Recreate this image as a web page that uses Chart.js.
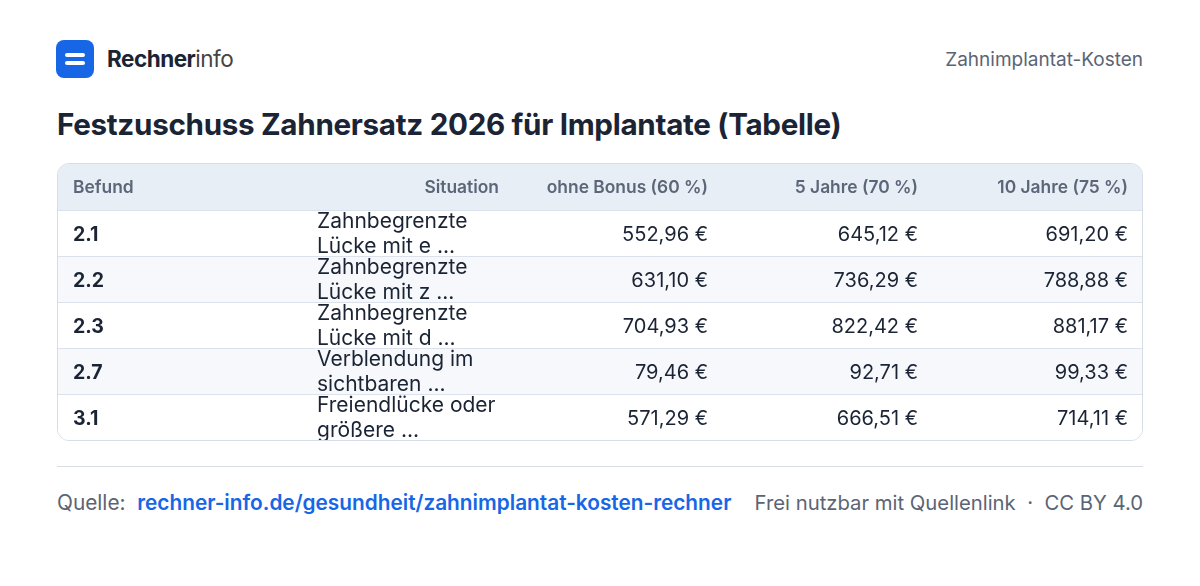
<!DOCTYPE html>
<html><head><meta charset="utf-8">
<script src="https://cdn.jsdelivr.net/npm/chart.js@4"></script>
<style>
body{margin:0;width:1200px;height:586px;background:#fff;font-family:Inter,"Noto Sans",sans-serif;position:relative;overflow:hidden;color:#1b2434}
.abs{position:absolute;white-space:nowrap}
#logo{left:56px;top:40px;width:38px;height:38px;background:#1766e6;border-radius:8px}
#logo i{position:absolute;left:9px;width:20px;height:4px;background:#fff;border-radius:2px}
#box{left:57px;top:163px;width:1084px;height:276px;border:1px solid #d6dde8;border-radius:12px;overflow:hidden}
</style></head><body>
<div id="logo" class="abs"><i style="top:13px"></i><i style="top:21px"></i></div>
<div class="abs" style="left:107px;top:45px;font-size:22.5px;letter-spacing:-0.5px"><b>Rechner</b><span style="color:#444">info</span></div>
<div class="abs" style="right:57px;top:48px;font-size:19px;color:#5b6474">Zahnimplantat-Kosten</div>
<div class="abs" style="left:57px;top:106px;font-size:29.6px;font-weight:700;letter-spacing:-0.3px">Festzuschuss Zahnersatz 2026 für Implantate (Tabelle)</div>
<div id="box" class="abs"><canvas id="c" width="1084" height="276"></canvas></div>
<div class="abs" style="left:57px;top:466px;width:1086px;height:1px;background:#d9dee6"></div>
<div class="abs" style="left:57px;top:490px;font-size:20.8px;color:#5b6474">Quelle:&nbsp; <span style="color:#1766e6;font-weight:600">rechner-info.de/gesundheit/zahnimplantat-kosten-rechner</span></div>
<div class="abs" style="right:57px;top:490px;font-size:20.3px;color:#5b6474">Frei nutzbar mit Quellenlink &nbsp;·&nbsp; CC BY 4.0</div>
<script>
const headers = ["Befund","Situation","ohne Bonus (60 %)","5 Jahre (70 %)","10 Jahre (75 %)"];
const befund = ["2.1","2.2","2.3","2.7","3.1"];
const situation = [["Zahnbegrenzte","Lücke mit e ..."],["Zahnbegrenzte","Lücke mit z ..."],["Zahnbegrenzte","Lücke mit d ..."],["Verblendung im","sichtbaren ..."],["Freiendlücke oder","größere ..."]];
const ohneBonus = ["552,96 €","631,10 €","704,93 €","79,46 €","571,29 €"];
const jahre5 = ["645,12 €","736,29 €","822,42 €","92,71 €","666,51 €"];
const jahre10 = ["691,20 €","788,88 €","881,17 €","99,33 €","714,11 €"];

const rowsLabels = ["header"].concat(befund);
const colX = [15, 441, 650, 860, 1070];
const tablePlugin = {
  id:'table',
  afterDraw(chart){
    const ctx = chart.ctx, y = chart.scales.y, a = chart.chartArea;
    const bandH = (a.bottom - a.top) / rowsLabels.length;
    rowsLabels.forEach((lab,i)=>{
      const cy = y.getPixelForValue(i);
      const top = cy - bandH/2;
      ctx.save();
      ctx.fillStyle = i===0 ? '#e8eef6' : (i%2===0 ? '#f6f8fb' : '#ffffff');
      ctx.fillRect(a.left, top, a.right-a.left, bandH);
      if(i>0){ctx.fillStyle='#dbe2ec';ctx.fillRect(a.left, top, a.right-a.left, 1);}
      ctx.restore();
    });
    rowsLabels.forEach((lab,i)=>{
      const cy = y.getPixelForValue(i);
      ctx.save();
      ctx.textBaseline='middle';
      if(i===0){
        ctx.font='600 17.4px Inter'; ctx.fillStyle='#5b6678';
        headers.forEach((h,j)=>{ctx.textAlign=j===0?'left':'right';ctx.fillText(h,colX[j],cy+1);});
      } else {
        const r=i-1;
        ctx.font='700 19.5px Inter'; ctx.fillStyle='#1b2434'; ctx.textAlign='left';
        ctx.fillText(befund[r],colX[0],cy+2);
        ctx.font='400 21px Inter';
        ctx.fillText(situation[r][0],259,cy-11);
        ctx.fillText(situation[r][1],259,cy+14);
        ctx.font='400 20px Inter'; ctx.textAlign='right';
        [ohneBonus,jahre5,jahre10].forEach((arr,k)=>ctx.fillText(arr[r],colX[k+2],cy+2));
      }
      ctx.restore();
    });
  }
};
new Chart(document.getElementById('c'),{
  type:'bar',
  data:{labels:rowsLabels,datasets:[{data:rowsLabels.map(()=>null)}]},
  options:{indexAxis:'y',responsive:false,animation:false,events:[],
    layout:{padding:0},
    plugins:{legend:{display:false},tooltip:{enabled:false}},
    scales:{y:{type:'category',display:false,offset:true},x:{display:false,min:0,max:1}}},
  plugins:[tablePlugin]
});
</script>
</body></html>
